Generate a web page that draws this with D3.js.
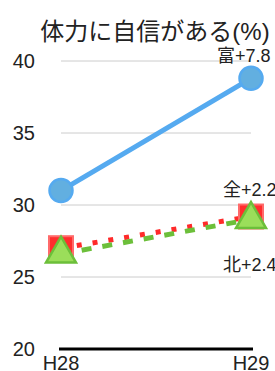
<!DOCTYPE html>
<html>
<head>
<meta charset="utf-8">
<script src="https://cdn.jsdelivr.net/npm/d3@7"></script>
<style>
  body { margin: 0; background: #fff; }
  svg { display: block; font-family: "Liberation Sans", Arial, "Noto Sans CJK JP", sans-serif; }
</style>
</head>
<body>
<div id="chart"></div>
<script>
var years = ['H28', 'H29'];
var toyama = [31.0, 38.8];   // 富
var zenkoku = [27.0, 29.2];  // 全
var hokuriku = [26.6, 29.0]; // 北
var yTicks = [20, 25, 30, 35, 40];
var labels = ['富+7.8', '全+2.2', '北+2.4'];

var width = 275, height = 371;

var svg = d3.select('#chart').append('svg')
  .attr('width', width)
  .attr('height', height);

var x = d3.scalePoint()
  .domain(years)
  .range([61, 251]);

var y = d3.scaleLinear()
  .domain([20, 40])
  .range([349, 61]);

// title
svg.append('text')
  .attr('x', 155)
  .attr('y', 40)
  .attr('text-anchor', 'middle')
  .attr('font-size', 24)
  .attr('fill', '#222')
  .text('体力に自信がある(%)');

// grid lines
svg.append('g')
  .selectAll('line')
  .data(yTicks.filter(d => d > 20))
  .join('line')
  .attr('x1', x('H28'))
  .attr('x2', x('H29'))
  .attr('y1', d => y(d))
  .attr('y2', d => y(d))
  .attr('stroke', '#cccccc')
  .attr('stroke-width', 1);

// y tick labels
svg.append('g')
  .selectAll('text')
  .data(yTicks)
  .join('text')
  .attr('x', 35)
  .attr('y', d => y(d))
  .attr('dy', '0.36em')
  .attr('text-anchor', 'end')
  .attr('font-size', 20)
  .attr('fill', '#222')
  .text(d => d);

// x axis line
svg.append('line')
  .attr('x1', x('H28') - 2)
  .attr('x2', x('H29') + 2)
  .attr('y1', y(20))
  .attr('y2', y(20))
  .attr('stroke', '#000')
  .attr('stroke-width', 3);

// x tick labels
svg.append('g')
  .selectAll('text')
  .data(years)
  .join('text')
  .attr('x', d => x(d))
  .attr('y', 370)
  .attr('text-anchor', 'middle')
  .attr('font-size', 20)
  .attr('fill', '#222')
  .text(d => d);

function pts(vals) {
  return vals.map((v, i) => [x(years[i]), y(v)]);
}

var line = d3.line();

// 全 (red dotted + squares)
svg.append('path')
  .attr('d', line(pts(zenkoku)))
  .attr('fill', 'none')
  .attr('stroke', '#ff2a2a')
  .attr('stroke-width', 5)
  .attr('stroke-dasharray', '5,11');

svg.append('g')
  .selectAll('rect')
  .data(pts(zenkoku))
  .join('rect')
  .attr('x', d => d[0] - 12)
  .attr('y', d => d[1] - 12)
  .attr('width', 24)
  .attr('height', 24)
  .attr('fill', '#ff2d2d')
  .attr('stroke', '#ff6a6a')
  .attr('stroke-width', 2);

// 北 (green dashed + triangles)
svg.append('path')
  .attr('d', line(pts(hokuriku)))
  .attr('fill', 'none')
  .attr('stroke', '#6cbf3a')
  .attr('stroke-width', 5)
  .attr('stroke-dasharray', '10,11');

var side = 30, th = side * Math.sqrt(3) / 2;
svg.append('g')
  .selectAll('path')
  .data(pts(hokuriku))
  .join('path')
  .attr('d', d => 'M' + d[0] + ',' + (d[1] - 2 * th / 3) +
    'L' + (d[0] + side / 2) + ',' + (d[1] + th / 3) +
    'L' + (d[0] - side / 2) + ',' + (d[1] + th / 3) + 'Z')
  .attr('fill', '#9bde5a')
  .attr('stroke', '#6cbf3a')
  .attr('stroke-width', 2.5)
  .attr('stroke-linejoin', 'miter');

// 富 (blue solid + circles)
svg.append('path')
  .attr('d', line(pts(toyama)))
  .attr('fill', 'none')
  .attr('stroke', '#55aaf0')
  .attr('stroke-width', 5);

svg.append('g')
  .selectAll('circle')
  .data(pts(toyama))
  .join('circle')
  .attr('cx', d => d[0])
  .attr('cy', d => d[1])
  .attr('r', 11.5)
  .attr('fill', '#62afe0')
  .attr('stroke', '#55aaf0')
  .attr('stroke-width', 2.5);

// end labels
var last = years[years.length - 1];
var labelPos = [
  { dx: -34, dy: -16, v: toyama[1] },
  { dx: -28, dy: -21, v: zenkoku[1] },
  { dx: -28, dy: 52, v: hokuriku[1] }
];
svg.append('g')
  .selectAll('text')
  .data(labels)
  .join('text')
  .attr('x', (d, i) => x(last) + labelPos[i].dx)
  .attr('y', (d, i) => y(labelPos[i].v) + labelPos[i].dy)
  .attr('font-size', 18)
  .attr('fill', '#222')
  .text(d => d);
</script>
</body>
</html>
